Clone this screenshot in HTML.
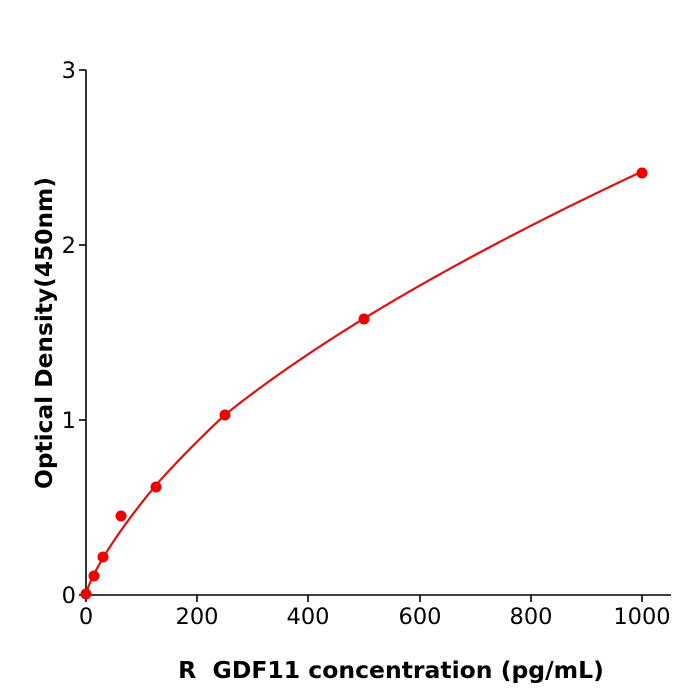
<!DOCTYPE html>
<html><head><meta charset="utf-8"><style>body{margin:0;background:#fff}svg{display:block}</style></head>
<body>
<svg id="s" width="700" height="700" xmlns="http://www.w3.org/2000/svg" font-family="DejaVu Sans, sans-serif">
<g stroke="#000" stroke-width="1.6" fill="none">
<line x1="86" y1="70" x2="86" y2="595.5"/>
<line x1="85" y1="595" x2="671" y2="595"/>
<line x1="79" y1="595" x2="86" y2="595"/>
<line x1="79" y1="420" x2="86" y2="420"/>
<line x1="79" y1="245" x2="86" y2="245"/>
<line x1="79" y1="70" x2="86" y2="70"/>
<line x1="86" y1="595" x2="86" y2="602"/>
<line x1="197" y1="595" x2="197" y2="602"/>
<line x1="308" y1="595" x2="308" y2="602"/>
<line x1="420" y1="595" x2="420" y2="602"/>
<line x1="531" y1="595" x2="531" y2="602"/>
<line x1="642" y1="595" x2="642" y2="602"/>
</g>
<g font-size="22.5" fill="#000" text-anchor="end">
<text x="76" y="603">0</text><text x="76" y="428">1</text><text x="76" y="253">2</text><text x="76" y="78">3</text>
</g>
<g font-size="22.5" fill="#000" text-anchor="middle">
<text x="86" y="624">0</text><text x="197" y="624">200</text><text x="308" y="624">400</text><text x="420" y="624">600</text><text x="531" y="624">800</text><text x="642" y="624">1000</text>
</g>
<text x="391" y="678" font-size="23.5" font-weight="bold" text-anchor="middle">R&#160; GDF11 concentration (pg/mL)</text>
<text transform="translate(52,333) rotate(-90)" font-size="23.3" font-weight="bold" text-anchor="middle">Optical Density(450nm)</text>
<path id="c" fill="none" stroke="#dd1111" stroke-width="2.2"/>
<g fill="#ee0000">
<circle cx="86" cy="594" r="5.5"/><circle cx="94" cy="576" r="5.5"/><circle cx="103" cy="557" r="5.5"/><circle cx="121" cy="516" r="5.5"/><circle cx="156" cy="487" r="5.5"/><circle cx="225" cy="415" r="5.5"/><circle cx="364" cy="319" r="5.5"/><circle cx="642" cy="173" r="5.5"/>
</g>
</svg>
<script>
var P=[[31.25,0.215],[125,0.625],[250,1.03],[500,1.58],[1000,2.42]];
function f(x){var k=0;while(k<P.length-2&&x>P[k+1][0])k++;var a=P[k],b=P[k+1];var e=Math.log(b[1]/a[1])/Math.log(b[0]/a[0]);return a[1]*Math.pow(x/a[0],e);}
var d="";for(var i=0;i<=500;i++){var x=1000*Math.pow(i/500,2);var y=x>0?f(x):0;d+=(i?"L":"M")+(86+x*0.556).toFixed(2)+","+(595-y*175).toFixed(2);}
document.getElementById("c").setAttribute("d",d);
</script>
</body></html>
